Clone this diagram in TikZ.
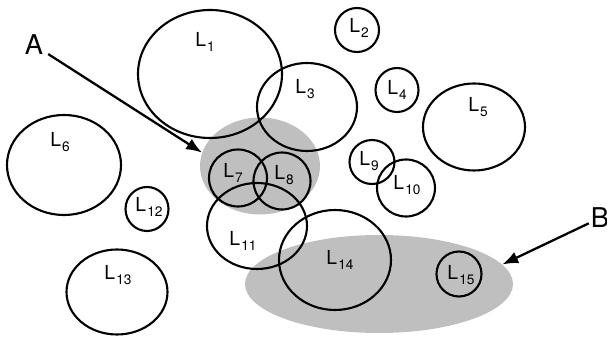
\documentclass[tikz,border=0pt]{standalone}
\usepackage{fontspec}
\setmainfont{TeX Gyre Heros}
\usetikzlibrary{positioning, arrows.meta, calc, shapes.geometric}

\newcommand{\Lsub}[1]{L\kern0.6pt\raisebox{-0.5ex}{\fontsize{7.8}{8}\selectfont #1}}

\begin{document}
\begin{tikzpicture}[
    ring/.style={ellipse, draw, line width=1.2pt, inner sep=0pt},
    blob/.style={ellipse, fill=black!25, inner sep=0pt},
    lbl/.style={font=\fontsize{11}{13}\selectfont, inner sep=0pt},
    letter/.style={font=\fontsize{15.5}{17}\selectfont, inner sep=1pt},
    arrow/.style={-{Latex[length=9pt, width=7pt]}, line width=1.3pt},
]
\useasboundingbox (0,0) rectangle (12.14,-6.76);

%% SHADED GROUPS
    \node[blob, minimum width=2.40cm, minimum height=1.94cm] (grpA) at (5.20,-3.32) {};
    \node[blob, minimum width=5.36cm, minimum height=1.96cm] (grpB) at (7.58,-5.68) {};

%% REGIONS
    \node[ring, minimum width=2.88cm, minimum height=2.56cm] (l1)  at (4.20,-1.48) {};
    \node[ring, minimum width=0.88cm, minimum height=0.88cm] (l2)  at (7.14,-0.60) {};
    \node[ring, minimum width=2.00cm, minimum height=1.76cm] (l3)  at (6.14,-2.14) {};
    \node[ring, minimum width=0.86cm, minimum height=0.88cm] (l4)  at (7.94,-1.80) {};
    \node[ring, minimum width=2.04cm, minimum height=1.74cm] (l5)  at (9.48,-2.54) {};
    \node[ring, minimum width=2.28cm, minimum height=2.00cm] (l6)  at (1.28,-3.30) {};
    \node[ring, minimum width=1.16cm, minimum height=1.14cm] (l7)  at (4.76,-3.56) {};
    \node[ring, minimum width=1.14cm, minimum height=1.14cm] (l8)  at (5.64,-3.62) {};
    \node[ring, minimum width=0.90cm, minimum height=0.88cm] (l9)  at (7.44,-3.24) {};
    \node[ring, minimum width=1.16cm, minimum height=1.14cm] (l10) at (8.12,-3.76) {};
    \node[ring, minimum width=2.00cm, minimum height=1.72cm] (l11) at (5.14,-4.52) {};
    \node[ring, minimum width=0.86cm, minimum height=0.88cm] (l12) at (2.94,-4.18) {};
    \node[ring, minimum width=2.02cm, minimum height=1.70cm] (l13) at (2.34,-5.84) {};
    \node[ring, minimum width=2.24cm, minimum height=2.00cm] (l14) at (6.70,-5.20) {};
    \node[ring, minimum width=0.90cm, minimum height=0.90cm] (l15) at (9.18,-5.48) {};

    % names
    \node[lbl] (t1)  at ($(l1)+(-0.10,0.64)$)  {\Lsub{1}};
    \node[lbl] (t2)  at ($(l2)+(0.04,0.04)$)   {\Lsub{2}};
    \node[lbl] (t3)  at ($(l3)+(-0.04,0.36)$)  {\Lsub{3}};
    \node[lbl] (t4)  at (l4)                   {\Lsub{4}};
    \node[lbl] (t5)  at ($(l5)+(0.08,0.40)$)   {\Lsub{5}};
    \node[lbl] (t6)  at ($(l6)+(-0.08,0.46)$)  {\Lsub{6}};
    \node[lbl] (t7)  at ($(l7)+(-0.10,0.10)$)  {\Lsub{7}};
    \node[lbl] (t8)  at ($(l8)+(0.04,0.12)$)   {\Lsub{8}};
    \node[lbl] (t9)  at ($(l9)+(-0.06,0.02)$)  {\Lsub{9}};
    \node[lbl] (t10) at ($(l10)+(0.02,0.06)$)  {\Lsub{10}};
    \node[lbl] (t11) at ($(l11)+(-0.28,-0.30)$) {\Lsub{11}};
    \node[lbl] (t12) at ($(l12)+(0.04,0.04)$)  {\Lsub{12}};
    \node[lbl] (t13) at ($(l13)+(0.02,0.34)$)  {\Lsub{13}};
    \node[lbl] (t14) at ($(l14)+(0.10,0)$)     {\Lsub{14}};
    \node[lbl] (t15) at ($(l15)+(0.04,-0.02)$) {\Lsub{15}};

%% POINTERS
    \node[letter] (A) at (0.68,-0.90) {A};
    \node[letter] (B) at (12.00,-4.36) {B};

    \draw[arrow, shorten <=2pt] (A) -- (grpA.167);
    \draw[arrow] (B) -- (grpB.9);

\end{tikzpicture}
\end{document}
